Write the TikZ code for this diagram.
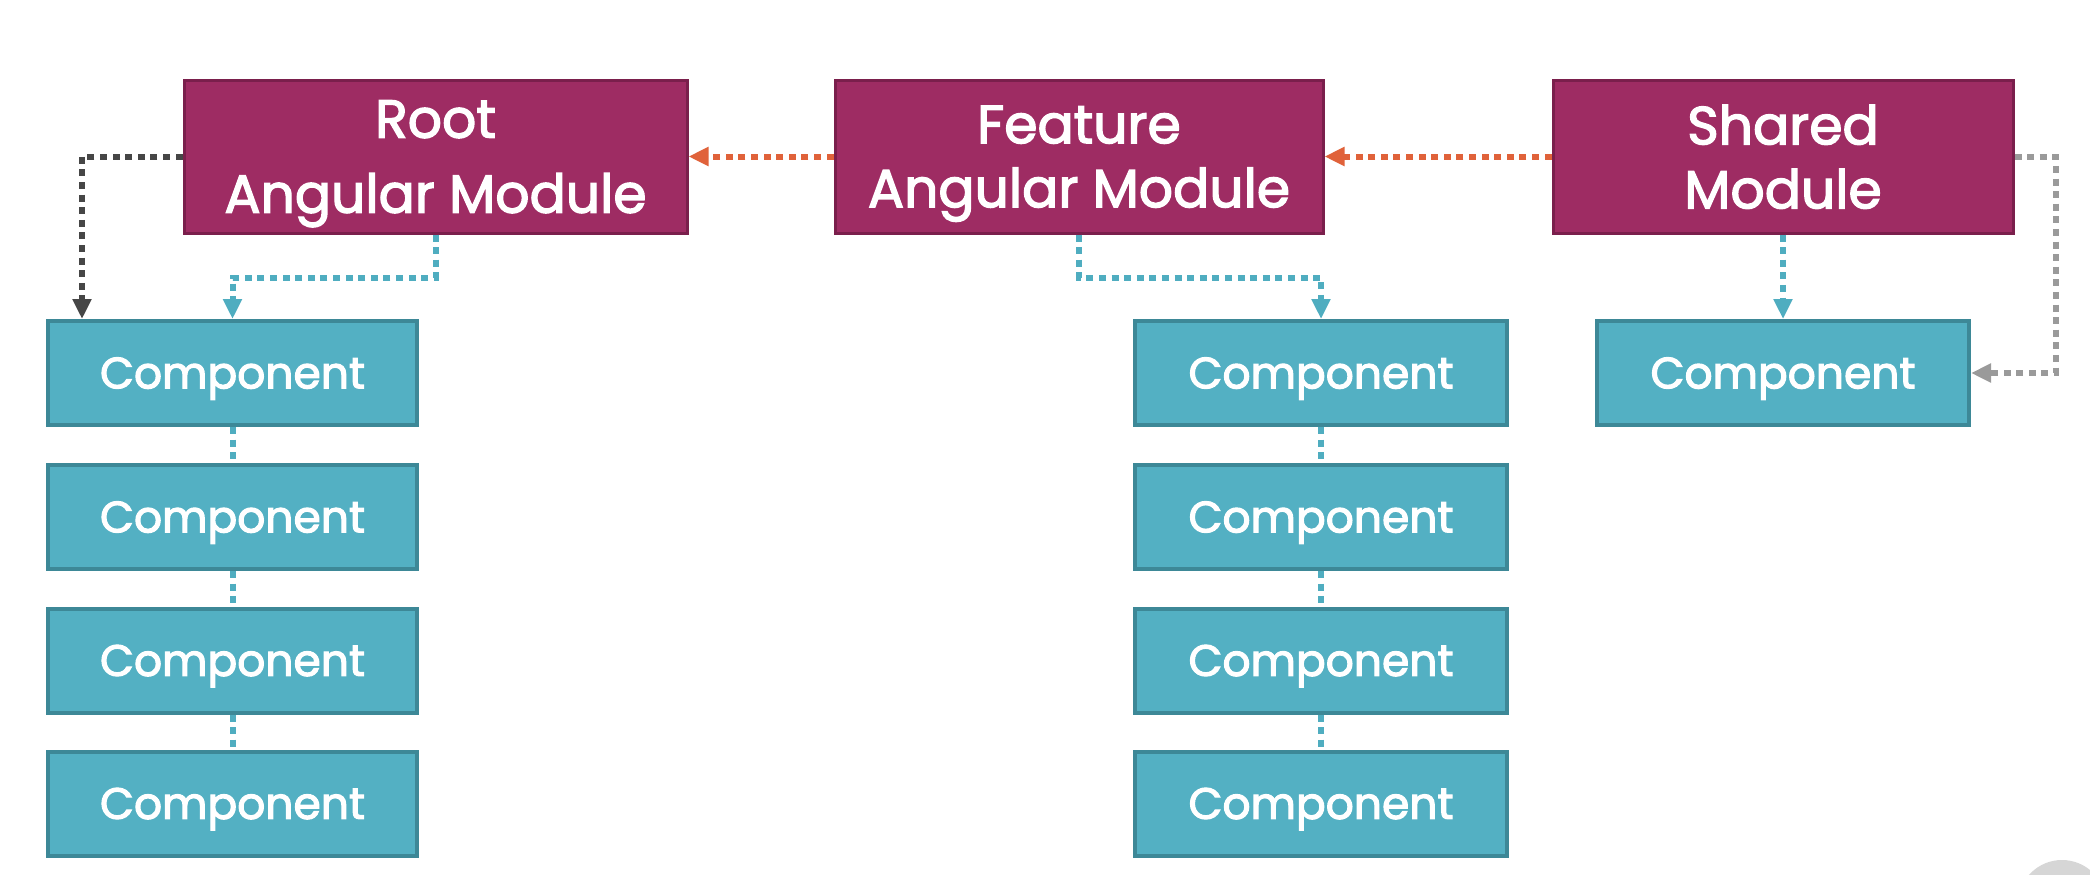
\documentclass[tikz,border=0pt]{standalone}
\usepackage{fontspec}
\setmainfont{Poppins}
\newfontfamily\labelfont{Poppins}[UprightFeatures={FakeBold=2.5}]
\usetikzlibrary{arrows.meta}
\definecolor{magfill}{HTML}{9E2C63}
\definecolor{magline}{HTML}{7A1F4C}
\definecolor{tealfill}{HTML}{53B0C3}
\definecolor{tealline}{HTML}{3D8897}
\definecolor{tealdot}{HTML}{4FADC0}
\definecolor{orangedot}{HTML}{E0623A}
\definecolor{darkdot}{HTML}{464646}
\definecolor{greydot}{HTML}{9A9A9A}
\newcommand{\nodepth}[1]{\raisebox{0pt}[\height][0pt]{#1}}
\tikzset{
  modbox/.style={draw=magline, line width=1.5pt, fill=magfill, text=white, align=center,
    minimum height=76.5pt, inner sep=0pt, font=\labelfont\fontsize{26.8}{32}\selectfont},
  compbox/.style={draw=tealline, line width=2pt, fill=tealfill, text=white,
    minimum height=52pt, inner sep=0pt, text height=15.4pt, text depth=0pt,
    font=\labelfont\fontsize{22}{27}\selectfont},
  dotline/.style={line width=3pt, dash pattern=on 3.5pt off 2.8pt},
  tip/.style={-{Triangle[length=10pt,width=9pt]}},
}
\begin{document}
\begin{tikzpicture}[x=0.5pt,y=-0.5pt]
\useasboundingbox (0,0) rectangle (2090,874);
\fill[white] (0,0) rectangle (2090,874);
% modules
\node[modbox, minimum width=251.5pt] (root) at (435.5,156.5) {Root\\[5.5pt]\nodepth{Angular Module}};
\node[modbox, minimum width=244pt] (feat) at (1079,156.5) {Feature\\\nodepth{Angular Module}};
\node[modbox, minimum width=230pt] (shared) at (1783,156.5) {Shared\\\nodepth{Module}};
% left components
\node[compbox, minimum width=184.5pt] (l1) at (232.5,373) {Component};
\node[compbox, minimum width=184.5pt] (l2) at (232.5,517) {Component};
\node[compbox, minimum width=184.5pt] (l3) at (232.5,660.5) {Component};
\node[compbox, minimum width=184.5pt] (l4) at (232.5,803.5) {Component};
% feature components
\node[compbox, minimum width=186pt] (f1) at (1321,373) {Component};
\node[compbox, minimum width=186pt] (f2) at (1321,517) {Component};
\node[compbox, minimum width=186pt] (f3) at (1321,660.5) {Component};
\node[compbox, minimum width=186pt] (f4) at (1321,803.5) {Component};
% shared component
\node[compbox, minimum width=186pt] (s1) at (1783,373) {Component};
% connectors
\draw[dotline, orangedot, tip] (shared.west) -- (feat.east);
\draw[dotline, orangedot, tip] (feat.west) -- (root.east);
\draw[dotline, darkdot, tip] (root.west) -| ([xshift=18pt]l1.north west);
\draw[dotline, tealdot, tip] (root.south) -- ++(0,43) -| (l1.north);
\draw[dotline, tealdot, tip] (feat.south) -- ++(0,43) -| (f1.north);
\draw[dotline, tealdot, tip] (shared.south) -- (s1.north);
\draw[dotline, greydot, tip] (shared.east) -- ++(41,0) |- (s1.east);
\draw[dotline, tealdot] (l1.south) -- (l2.north);
\draw[dotline, tealdot] (l2.south) -- (l3.north);
\draw[dotline, tealdot] (l3.south) -- (l4.north);
\draw[dotline, tealdot] (f1.south) -- (f2.north);
\draw[dotline, tealdot] (f2.south) -- (f3.north);
\draw[dotline, tealdot] (f3.south) -- (f4.north);
% player corner circle
\fill[black!16] (2062,904) circle (22pt);
\end{tikzpicture}
\end{document}
